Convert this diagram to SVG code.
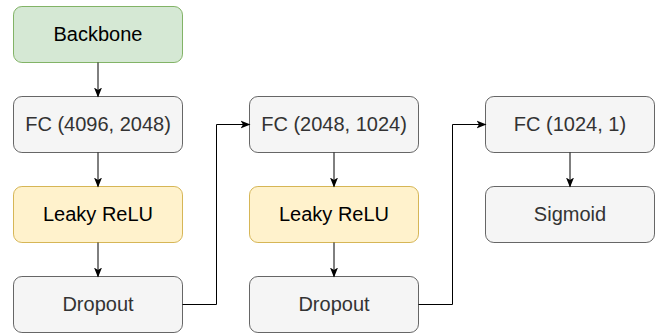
<svg xmlns="http://www.w3.org/2000/svg" width="662" height="333" viewBox="0 0 662 333">
  <defs>
    <marker id="arrow" viewBox="0 0 10 10" refX="9" refY="5" markerWidth="10" markerHeight="10" markerUnits="userSpaceOnUse" orient="auto">
      <path d="M0,1 L10,5 L0,9 L2.5,5 Z" fill="#000"/>
    </marker>
  </defs>
  <style>
    .box rect { stroke-width: 1; }
    .green rect { fill: #d5e8d4; stroke: #82b366; }
    .yellow rect { fill: #fff2cc; stroke: #d6b656; }
    .gray rect { fill: #f5f5f5; stroke: #666666; }
    text { font-family: "Liberation Sans", Arial, Helvetica, sans-serif; font-size: 20px; text-anchor: middle; }
    .green text, .yellow text { fill: #000; }
    .gray text { fill: #333333; }
    .edge { fill: none; stroke: #000; stroke-width: 1; marker-end: url(#arrow); }
  </style>

  <!-- first column -->
  <g id="backbone" class="box green">
    <rect x="13.5" y="6.5" width="169" height="56" rx="8.4"/>
    <text x="98" y="41">Backbone</text>
  </g>
  <g id="fc1" class="box gray">
    <rect x="13.5" y="96.5" width="169" height="56" rx="8.4"/>
    <text x="98" y="131">FC (4096, 2048)</text>
  </g>
  <g id="relu1" class="box yellow">
    <rect x="13.5" y="186.5" width="169" height="56" rx="8.4"/>
    <text x="98" y="221">Leaky ReLU</text>
  </g>
  <g id="dropout1" class="box gray">
    <rect x="13.5" y="276.5" width="169" height="56" rx="8.4"/>
    <text x="98" y="311">Dropout</text>
  </g>

  <!-- second column -->
  <g id="fc2" class="box gray">
    <rect x="249.5" y="96.5" width="169" height="56" rx="8.4"/>
    <text x="334" y="131">FC (2048, 1024)</text>
  </g>
  <g id="relu2" class="box yellow">
    <rect x="249.5" y="186.5" width="169" height="56" rx="8.4"/>
    <text x="334" y="221">Leaky ReLU</text>
  </g>
  <g id="dropout2" class="box gray">
    <rect x="249.5" y="276.5" width="169" height="56" rx="8.4"/>
    <text x="334" y="311">Dropout</text>
  </g>

  <!-- third column -->
  <g id="fc3" class="box gray">
    <rect x="485.5" y="96.5" width="169" height="56" rx="8.4"/>
    <text x="570" y="131">FC (1024, 1)</text>
  </g>
  <g id="sigmoid" class="box gray">
    <rect x="485.5" y="186.5" width="169" height="56" rx="8.4"/>
    <text x="570" y="221">Sigmoid</text>
  </g>

  <!-- connectors -->
  <g id="connectors">
    <path class="edge" d="M98,62.5 V96.5"/>
    <path class="edge" d="M98,152.5 V186.5"/>
    <path class="edge" d="M98,242.5 V276.5"/>
    <path class="edge" d="M182.5,304.5 H216.5 V124.5 H249.5"/>
    <path class="edge" d="M334,152.5 V186.5"/>
    <path class="edge" d="M334,242.5 V276.5"/>
    <path class="edge" d="M418.5,304.5 H452.5 V124.5 H485.5"/>
    <path class="edge" d="M570,152.5 V186.5"/>
  </g>
</svg>
